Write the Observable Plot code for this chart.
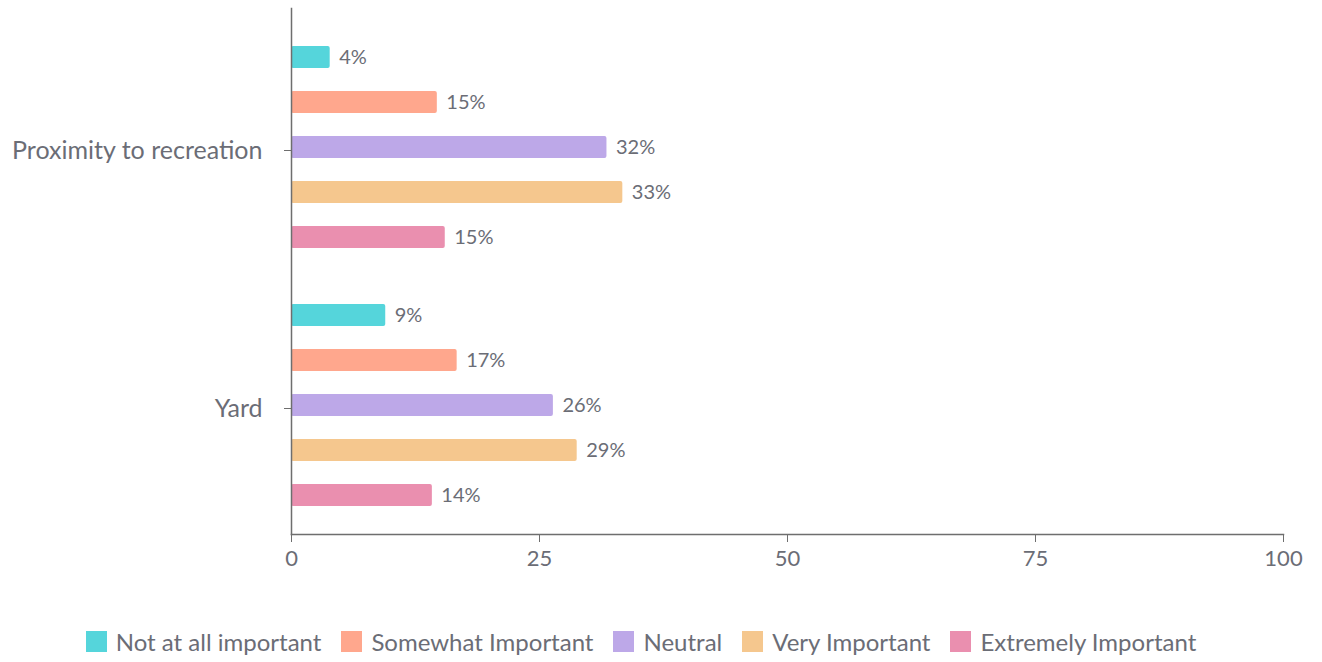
<!DOCTYPE html>
<html>
<head>
<meta charset="utf-8">
<script src="https://cdn.jsdelivr.net/npm/d3@7"></script>
<script src="https://cdn.jsdelivr.net/npm/@observablehq/plot@0.6"></script>
<style>
  html, body { margin: 0; padding: 0; background: #fff; }
  body { width: 1322px; height: 662px; overflow: hidden; font-family: Lato, "Noto Sans", sans-serif; }
  #legend { display: flex; justify-content: center; align-items: center; height: 42px; gap: 20px; font-size: 24px; color: #6b6d76; padding-right: 40px; }
  #legend .item { display: flex; align-items: center; white-space: nowrap; }
  #legend .sw { width: 21px; height: 21px; margin-right: 9px; display: inline-block; }
</style>
</head>
<body>
<div id="chart"></div>
<div id="legend"></div>
<script>
const categories = ["Proximity to recreation", "Yard"];
const series = ["Not at all important", "Somewhat Important", "Neutral", "Very Important", "Extremely Important"];
const colors = ["#55d5db", "#ffa78d", "#bda8e8", "#f5c78e", "#ea8faf"];
const proximityValues = [3.9, 14.7, 31.8, 33.4, 15.5];
const proximityLabels = ["4%", "15%", "32%", "33%", "15%"];
const yardValues = [9.5, 16.7, 26.4, 28.8, 14.2];
const yardLabels = ["9%", "17%", "26%", "29%", "14%"];
const xTicks = [0, 25, 50, 75, 100];

const table = [];
series.forEach((s, i) => {
  table.push({category: categories[0], series: s, value: proximityValues[i], label: proximityLabels[i]});
  table.push({category: categories[1], series: s, value: yardValues[i], label: yardLabels[i]});
});

const textColor = "#6b6d76";
const axisColor = "#6e6e6e";

const chart = Plot.plot({
  width: 1322,
  height: 620,
  marginLeft: 291,
  marginRight: 39,
  marginTop: 18,
  marginBottom: 86,
  style: {fontFamily: "Lato, 'Noto Sans', sans-serif", color: textColor, background: "#fff"},
  x: {domain: [0, 100], axis: null},
  y: {domain: series, paddingInner: 0.52, paddingOuter: 0.57, axis: null},
  fy: {domain: categories, padding: 0, axis: null},
  color: {domain: series, range: colors},
  marks: [
    Plot.barX(table, {x: "value", y: "series", fy: "category", fill: "series", rx: 2}),
    Plot.text(table, {x: "value", y: "series", fy: "category", text: "label", dx: 9, textAnchor: "start", fontSize: 20, fill: textColor}),
    Plot.frame({anchor: "left", stroke: axisColor, strokeWidth: 1.5, facet: "super", insetTop: -10}),
    Plot.frame({anchor: "bottom", stroke: axisColor, strokeWidth: 1.5, facet: "super"}),
    Plot.axisFy({anchor: "left", tickSize: 7, tickPadding: 22, fontSize: 25, dy: 3, label: null, stroke: axisColor, fill: textColor}),
    Plot.axisX(xTicks, {anchor: "bottom", tickSize: 8, tickPadding: 8, fontSize: 22, label: null, stroke: axisColor, fill: textColor})
  ]
});
document.getElementById("chart").appendChild(chart);

const legend = d3.select("#legend");
series.forEach((s, i) => {
  const it = legend.append("div").attr("class", "item");
  it.append("span").attr("class", "sw").style("background", colors[i]);
  it.append("span").text(s);
});
</script>
</body>
</html>
